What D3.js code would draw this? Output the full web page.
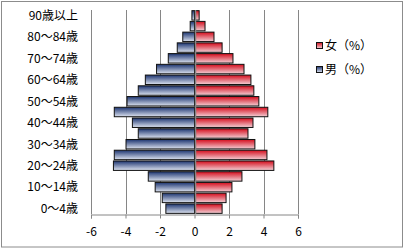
<!DOCTYPE html>
<html>
<head>
<meta charset="utf-8">
<script src="https://cdn.jsdelivr.net/npm/d3@7"></script>
<style>
  body { margin: 0; background: #fff; }
  svg { display: block; }
  text { font-family: "Noto Sans CJK JP", sans-serif; fill: #000; }
</style>
</head>
<body>
<svg id="chart"></svg>
<script>
var ages = ["0～4歳", "5～9歳", "10～14歳", "15～19歳", "20～24歳", "25～29歳", "30～34歳",
  "35～39歳", "40～44歳", "45～49歳", "50～54歳", "55～59歳", "60～64歳", "65～69歳",
  "70～74歳", "75～79歳", "80～84歳", "85～89歳", "90歳以上"];
var male = [-1.66, -1.87, -2.28, -2.68, -4.7, -4.65, -3.97, -3.26, -3.6, -4.65,
  -3.91, -3.26, -2.85, -2.2, -1.52, -1.0, -0.68, -0.25, -0.15];
var female = [1.6, 1.83, 2.17, 2.75, 4.6, 4.2, 3.5, 3.1, 3.39, 4.25,
  3.73, 3.44, 3.27, 2.87, 2.23, 1.6, 1.13, 0.61, 0.27];
var ticks = [-6, -4, -2, 0, 2, 4, 6];
var legendNames = ["女（%）", "男（%）"];

var width = 407, height = 249;
var svg = d3.select("#chart").attr("width", width).attr("height", height);

var defs = svg.append("defs");
function grad(id, top, bottom) {
  var g = defs.append("linearGradient").attr("id", id)
    .attr("x1", 0).attr("y1", 0).attr("x2", 0).attr("y2", 1);
  g.append("stop").attr("offset", "0%").attr("stop-color", top);
  g.append("stop").attr("offset", "100%").attr("stop-color", bottom);
}
grad("gBlue", "#1c3470", "#dde3f0");
grad("gRed", "#d40c1c", "#f3d0d6");

// outer frame
svg.append("rect").attr("x", 1.5).attr("y", 1.5).attr("width", 401).attr("height", 245.5)
  .attr("fill", "#fff").attr("stroke", "#8c8c8c");

var x = d3.scaleLinear().domain([-6, 6]).range([91, 298]);
var y = d3.scaleBand().domain(ages).range([214, 10]).paddingInner(0.12).paddingOuter(0.06);

// gridlines
svg.append("g").selectAll("line").data(ticks).enter().append("line")
  .attr("x1", function(d) { return Math.round(x(d)) + 0.5; })
  .attr("x2", function(d) { return Math.round(x(d)) + 0.5; })
  .attr("y1", 10).attr("y2", 214)
  .attr("stroke", "#868686");

function bars(data, fill) {
  svg.append("g").selectAll("rect").data(data).enter().append("rect")
    .attr("x", function(d) { return x(Math.min(0, d)); })
    .attr("width", function(d) { return Math.abs(x(d) - x(0)); })
    .attr("y", function(d, i) { return y(ages[i]); })
    .attr("height", y.bandwidth())
    .attr("fill", fill)
    .attr("stroke", "#111").attr("stroke-width", 1);
}
bars(male, "url(#gBlue)");
bars(female, "url(#gRed)");

// zero axis
svg.append("line").attr("x1", Math.round(x(0)) + 0.5).attr("x2", Math.round(x(0)) + 0.5)
  .attr("y1", 10).attr("y2", 214).attr("stroke", "#868686").attr("stroke-width", 1.5);

// bottom axis
var xAxis = svg.append("g").attr("transform", "translate(0,214.5)")
  .call(d3.axisBottom(x).tickValues(ticks).tickSize(4).tickPadding(9)
    .tickFormat(function(d) { return d; }));
xAxis.select(".domain").attr("stroke", "#868686");
xAxis.selectAll(".tick line").attr("stroke", "#868686");
xAxis.selectAll("text").style("font-size", "12px").style("font-family", "Noto Sans CJK JP, sans-serif");

// category labels
svg.append("g").selectAll("text").data(ages.filter(function(d, i) { return i % 2 === 0; }))
  .enter().append("text")
  .attr("x", 78)
  .attr("y", function(d) { return y(d) + y.bandwidth() / 2; })
  .attr("dy", "0.36em")
  .attr("text-anchor", "end")
  .style("font-size", "12px")
  .text(function(d) { return d; });

// legend
var legColors = ["url(#gRed)", "url(#gBlue)"];
var leg = svg.append("g").selectAll("g").data(legendNames).enter().append("g")
  .attr("transform", function(d, i) { return "translate(316," + (46 + i * 24) + ")"; });
leg.append("rect").attr("x", 0.5).attr("y", -3.5).attr("width", 6).attr("height", 6)
  .attr("fill", function(d, i) { return legColors[i]; }).attr("stroke", "#111");
leg.append("text").attr("x", 9).attr("dy", "0.36em").style("font-size", "12px")
  .text(function(d) { return d; });
</script>
</body>
</html>
